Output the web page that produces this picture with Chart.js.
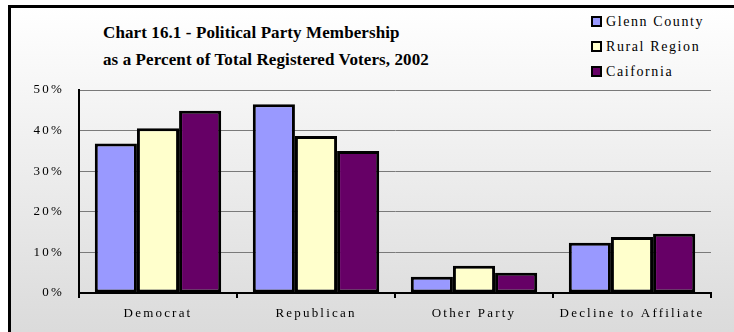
<!DOCTYPE html>
<html>
<head>
<meta charset="utf-8">
<script src="https://cdn.jsdelivr.net/npm/chart.js@4"></script>
<style>
  body { margin: 0; }
  #wrap {
    position: relative; width: 734px; height: 332px; overflow: hidden;
    background: #fff;
  }
  #frame {
    position: absolute; left: 8px; top: 5px; width: 760px; height: 360px;
    border-left: 3px solid #000; border-top: 3px solid #000;
    background: linear-gradient(#ffffff, #dadada 92%);
  }
  #title {
    position: absolute; left: 103px; top: 19px;
    font: bold 17px "Liberation Serif", serif; line-height: 27px;
    letter-spacing: 0.1px; color: #000;
  }
  #legend {
    position: absolute; left: 591px; top: 11px;
    font: 14px "Liberation Serif", serif; letter-spacing: 1.6px;
  }
  #legend div { height: 24.8px; line-height: 22px; white-space: nowrap; }
  #legend span {
    display: inline-block; width: 7px; height: 7px; border: 2px solid #000;
    vertical-align: -1px; margin-right: 4px;
  }
  canvas { position: absolute; left: 0; top: 0; }
</style>
</head>
<body>
<div id="wrap">
  <div id="frame"></div>
  <div id="title">Chart 16.1 - Political Party Membership<br>as a Percent of Total Registered Voters, 2002</div>
  <div id="legend"></div>
  <canvas id="chart" width="734" height="332"></canvas>
</div>
<script>
const categories = ['Democrat', 'Republican', 'Other Party', 'Decline to Affiliate'];
const seriesNames = ['Glenn County', 'Rural Region', 'Caifornia'];
const glennCounty = [36.8, 46.5, 4.0, 12.4];
const ruralRegion = [40.6, 38.7, 6.7, 13.8];
const california = [44.9, 35.0, 5.0, 14.6];
const colors = ['#9999ff', '#ffffcc', '#660066'];
const yTicks = [0, 10, 20, 30, 40, 50];

// legend drawn as html, from the same names/colours
const legend = document.getElementById('legend');
seriesNames.forEach((name, i) => {
    const row = document.createElement('div');
    const box = document.createElement('span');
    box.style.background = colors[i];
    row.appendChild(box);
    row.appendChild(document.createTextNode(name));
    legend.appendChild(row);
});

const spacing = {
    id: 'spacing',
    beforeDraw(chart) { chart.ctx.letterSpacing = '2.2px'; }
};

const serif = '"Liberation Serif", "Times New Roman", serif';

const ctx = document.getElementById('chart').getContext('2d');
new Chart(ctx, {
    type: 'bar',
    data: {
        labels: categories,
        datasets: [glennCounty, ruralRegion, california].map((d, i) => ({
            label: seriesNames[i],
            data: d,
            backgroundColor: colors[i],
            borderColor: '#000',
            borderWidth: 3,
            borderSkipped: false,
            categoryPercentage: 0.8,
            barPercentage: 1
        }))
    },
    options: {
        responsive: false,
        animation: false,
        layout: { padding: { top: 90, right: 23, left: 0, bottom: 0 } },
        plugins: {
            legend: { display: false },
            tooltip: { enabled: false }
        },
        scales: {
            x: {
                afterFit: s => { s.height = 39; },
                grid: { drawOnChartArea: false, color: '#000', lineWidth: 2, tickLength: 5, offset: true },
                border: { color: '#000', width: 2 },
                ticks: { color: '#000', padding: 8, font: { family: serif, size: 13 } }
            },
            y: {
                min: 0, max: 50,
                afterFit: s => { s.width = 79; },
                afterBuildTicks: s => { s.ticks = yTicks.map(v => ({ value: v })); },
                grid: { color: '#7a7a7a', lineWidth: 1, drawTicks: false },
                border: { color: '#000', width: 2 },
                ticks: {
                    color: '#000', padding: 15,
                    font: { family: serif, size: 13 },
                    callback: v => v + '%'
                }
            }
        }
    },
    plugins: [spacing]
});
</script>
</body>
</html>
